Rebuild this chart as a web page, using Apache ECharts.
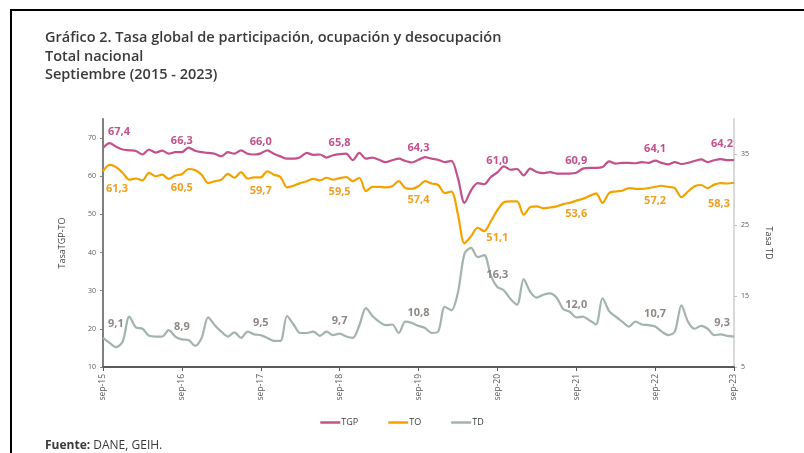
<!DOCTYPE html>
<html>
<head>
<meta charset="utf-8">
<script src="https://cdn.jsdelivr.net/npm/echarts@6/dist/echarts.min.js"></script>
<style>
html,body{margin:0;padding:0;background:#fff;}
#chart{width:804px;height:453px;}
</style>
</head>
<body>
<div id="chart"></div>
<script>
// Month names (Spanish) and years for category labels, Sep 2015 .. Sep 2023
const monthNames = ['ene','feb','mar','abr','may','jun','jul','ago','sep','oct','nov','dic'];
const categories = [];
for (let i = 0; i < 97; i++) {
  const m = (8 + i) % 12;
  const y = 15 + Math.floor((8 + i) / 12);
  categories.push(monthNames[m] + '-' + y);
}

// Tasa global de participación (TGP), %
const tgp = [
  67.4, 68.7, 67.7, 67.0, 66.8, 66.6, 65.7, 67.0, 66.2, 66.7, 65.9, 66.3,
  66.3, 67.5, 66.7, 66.3, 66.1, 65.9, 65.2, 66.3, 65.9, 66.8, 65.9, 65.7,
  66.0, 66.8, 65.9, 65.2, 64.6, 64.6, 65.0, 66.1, 65.6, 65.7, 64.9, 65.5,
  65.8, 65.9, 64.2, 66.1, 64.6, 64.9, 64.3, 63.7, 64.2, 64.6, 64.0, 63.6,
  64.3, 65.0, 64.6, 64.3, 63.7, 64.0, 59.5, 53.0, 56.3, 58.2, 57.9, 59.8,
  61.0, 62.6, 61.7, 61.9, 60.2, 62.0, 61.1, 60.8, 61.1, 60.7, 60.7, 60.7,
  60.9, 62.0, 62.2, 62.2, 62.4, 63.9, 63.3, 63.5, 63.5, 63.4, 63.7, 63.5,
  64.1, 63.5, 63.1, 63.7, 63.2, 63.5, 64.0, 64.4, 63.7, 64.2, 64.5, 64.2, 64.2
];

// Tasa de ocupación (TO), %
const to = [
  61.3, 63.0, 62.4, 60.9, 59.1, 59.4, 58.9, 60.9, 60.0, 60.4, 59.3, 60.2,
  60.5, 61.9, 61.6, 60.4, 58.2, 58.7, 59.1, 60.6, 59.6, 61.1, 59.4, 59.7,
  59.7, 61.3, 60.4, 59.8, 57.1, 57.5, 58.2, 58.7, 59.3, 58.9, 59.6, 59.1,
  59.5, 59.8, 58.7, 59.6, 56.1, 57.2, 57.2, 57.1, 57.4, 58.7, 56.9, 56.7,
  57.4, 58.7, 58.1, 57.7, 55.6, 56.0, 50.0, 42.4, 44.3, 46.5, 45.6, 48.2,
  51.1, 53.2, 53.4, 53.4, 49.9, 51.9, 52.1, 51.6, 51.8, 52.1, 52.7, 53.0,
  53.6, 54.1, 54.8, 55.5, 53.0, 55.6, 56.0, 56.2, 56.9, 56.7, 56.7, 56.9,
  57.2, 57.5, 57.2, 56.9, 54.5, 56.0, 57.4, 57.7, 56.9, 57.8, 58.2, 58.1, 58.3
];

// Tasa de desocupación (TD), % (right axis)
const td = [
  9.1, 8.4, 7.8, 8.6, 12.1, 10.6, 10.4, 9.4, 9.3, 9.3, 10.2, 9.3,
  8.9, 8.8, 8.0, 9.1, 12.0, 10.9, 10.0, 9.3, 9.9, 9.1, 10.0, 9.6,
  9.5, 9.1, 8.7, 8.7, 12.2, 11.0, 9.8, 9.8, 10.0, 9.4, 10.0, 9.5,
  9.7, 9.3, 9.1, 10.9, 13.3, 12.2, 11.4, 10.9, 11.0, 9.8, 11.4, 11.2,
  10.8, 10.5, 9.8, 10.0, 13.5, 13.0, 15.5, 21.0, 21.8, 20.5, 20.8, 17.9,
  16.3, 15.8, 14.6, 13.8, 17.4, 15.6, 14.8, 15.2, 15.4, 14.8, 13.2, 12.8,
  12.0, 12.1, 11.6, 11.0, 14.7, 12.9, 12.1, 11.4, 10.7, 11.4, 11.0, 10.9,
  10.7, 10.0, 9.5, 10.0, 13.7, 11.4, 10.4, 10.8, 10.4, 9.5, 9.6, 9.4, 9.3
];

const leftTicks = [10, 20, 30, 40, 50, 60, 70];
const rightTicks = [5, 15, 25, 35];
const seriesNames = ['TGP', 'TO', 'TD'];

const colors = { TGP: '#c4508c', TO: '#f5a200', TD: '#a3b3ae' };
const labelColors = { TGP: '#c4508c', TO: '#f0a020', TD: '#8e8884' };
// label placement tweaks (style only), keyed by series and point index
const labelTweaks = {
  TGP: { 0: [5, -5], 96: [-1, -5] },
  TO: { 0: [3, 4], 60: [0, 14], 96: [-4, 8] },
  TD: { 0: [5, -2], 96: [-4, -1] }
};

function fmt(v) { return v.toFixed(1).replace('.', ','); }

function buildData(arr, name, pos, dist) {
  const last = arr.length - 1;
  return arr.map(function (v, i) {
    if (i % 12 !== 0) return { value: v };
    let align = 'center';
    if (i === 0) align = 'left';
    if (i === last) align = 'right';
    return {
      value: v,
      label: {
        show: true, position: pos, distance: dist, align: align,
        formatter: fmt(v), color: labelColors[name],
        fontFamily: 'Open Sans', fontWeight: 'bold', fontSize: 11
      }
    };
  });
}

function makeSeries(name, arr, axis, pos, dist) {
  return {
    name: name, type: 'line', yAxisIndex: axis, data: buildData(arr, name, pos, dist), smooth: 0.3,
    showSymbol: true, showAllSymbol: true, symbol: 'circle', symbolSize: 0.1,
    lineStyle: { color: colors[name], width: 2.2 },
    itemStyle: { color: colors[name] },
    label: { show: false },
    labelLayout: function (p) {
      const t = labelTweaks[name][p.dataIndex];
      return t ? { hideOverlap: false, dx: t[0], dy: t[1] } : { hideOverlap: false };
    },
    emphasis: { disabled: true }
  };
}

const chart = echarts.init(document.getElementById('chart'), null, { renderer: 'canvas' });

const axisLabelStyle = { color: '#595959', fontFamily: 'Open Sans', fontSize: 7 };

chart.setOption({
  animation: false,
  backgroundColor: '#ffffff',
  title: {
    text: 'Gráfico 2. Tasa global de participación, ocupación y desocupación\nTotal nacional\nSeptiembre (2015 - 2023)',
    left: 40, top: 24,
    textStyle: { fontFamily: 'Open Sans', fontWeight: 600, fontSize: 14.5, lineHeight: 18.5, color: '#3a3a3a' }
  },
  graphic: [
    { type: 'rect', shape: { x: 11, y: 10, width: 820, height: 460 }, style: { fill: 'none', stroke: '#000', lineWidth: 2 }, silent: true },
    { type: 'text', left: 45, top: 440, style: {
        text: '{b|Fuente:} DANE, GEIH.',
        rich: { b: { fontWeight: 'bold', fontFamily: 'Open Sans', fontSize: 12, fill: '#3a3a3a' } },
        fontFamily: 'Open Sans', fontSize: 12, fill: '#3a3a3a' } }
  ],
  legend: {
    data: seriesNames,
    bottom: 21, left: 'center',
    icon: 'rect', itemWidth: 20, itemHeight: 2.5, itemGap: 30,
    textStyle: { fontFamily: 'Open Sans', fontSize: 9, color: '#404040', padding: [0, 0, 0, -4] }
  },
  grid: { left: 103, right: 70, top: 119, bottom: 86, containLabel: false },
  xAxis: {
    type: 'category', data: categories, boundaryGap: false,
    axisLine: { lineStyle: { color: '#595959', width: 2 } },
    axisTick: { interval: 11, length: 4, lineStyle: { color: '#595959' } },
    axisLabel: { interval: 11, rotate: 90, margin: 7, color: '#595959', fontFamily: 'Open Sans', fontSize: 8.5 },
    splitLine: { show: false }
  },
  yAxis: [
    {
      type: 'value', min: 10, max: 75, interval: 10,
      name: 'TasaTGP-TO', nameLocation: 'middle', nameGap: 36, nameRotate: 90,
      nameTextStyle: { fontFamily: 'Open Sans', fontSize: 9, color: '#404040' },
      axisLine: { show: true, lineStyle: { color: '#7f7f7f', width: 2 } },
      axisTick: { show: true, length: 3, customValues: leftTicks, lineStyle: { color: '#7f7f7f' } },
      axisLabel: Object.assign({ customValues: leftTicks, margin: 7 }, axisLabelStyle),
      splitLine: { show: false }
    },
    {
      type: 'value', min: 5, max: 40, interval: 10,
      name: 'Tasa TD', nameLocation: 'middle', nameGap: 30, nameRotate: -90,
      nameTextStyle: { fontFamily: 'Open Sans', fontSize: 9, color: '#404040' },
      axisLine: { show: true, lineStyle: { color: '#d9d9d9', width: 2 } },
      axisTick: { show: true, length: 3, customValues: rightTicks, lineStyle: { color: '#bfbfbf' } },
      axisLabel: Object.assign({ customValues: rightTicks, margin: 7 }, axisLabelStyle),
      splitLine: { show: false }
    }
  ],
  series: [
    makeSeries('TGP', tgp, 0, 'top', 6),
    makeSeries('TO', to, 0, 'bottom', 8),
    makeSeries('TD', td, 1, 'top', 7)
  ]
});
</script>
</body>
</html>
